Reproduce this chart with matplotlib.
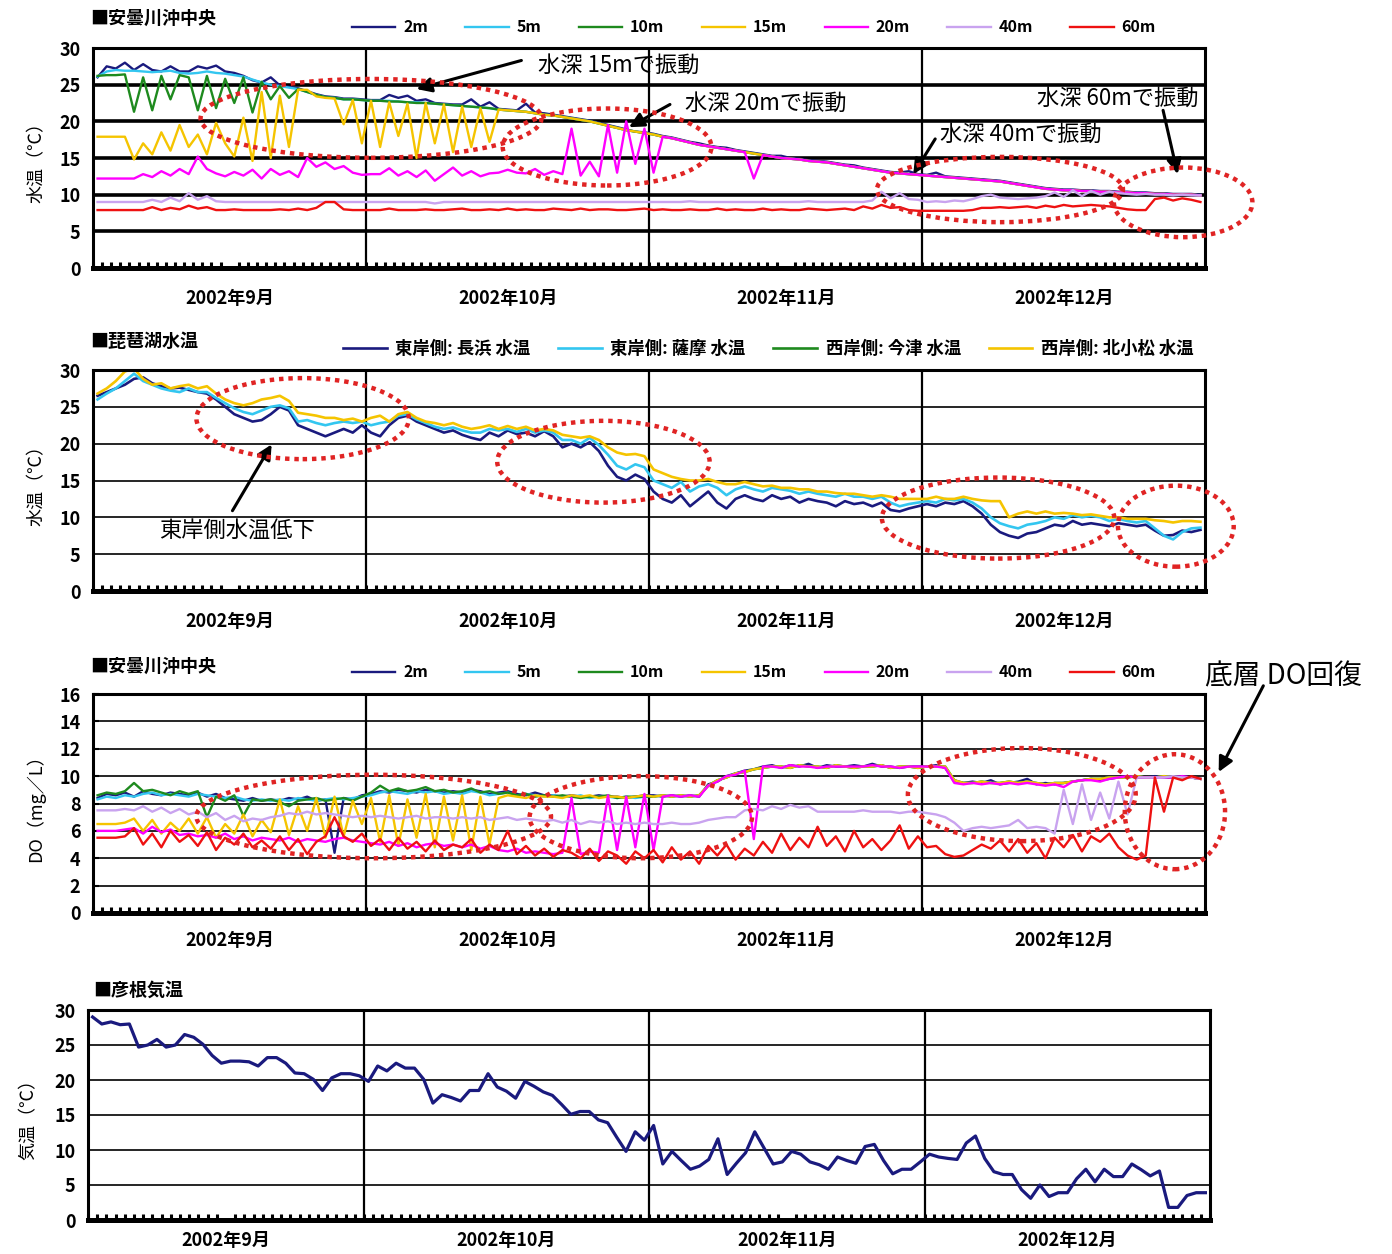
import numpy as np
import matplotlib.pyplot as plt
from matplotlib.patches import Ellipse
from matplotlib.ticker import MultipleLocator

plt.rcParams['font.family'] = ['Noto Sans CJK JP', 'DejaVu Sans']
plt.rcParams['font.weight'] = 'bold'

# colors
navy = '#1a1a7e'
cyan = '#33c6f0'
green = '#1e8a1e'
gold = '#f5c400'
magenta = '#ff00ff'
lavender = '#c9a3ef'
red = '#ee1111'
dot_red = '#e02424'

month_labels = ['2002年9月', '2002年10月', '2002年11月', '2002年12月']
month_starts = [0, 30, 61, 91, 122]
days = np.arange(122) + 0.5   # daily values, Sep 1 .. Dec 31

depth_labels = ['2m', '5m', '10m', '15m', '20m', '40m', '60m']
depth_colors = [navy, cyan, green, gold, magenta, lavender, red]

# ---- panel 1: water temperature by depth (deg C), one value per day ----
tw_2m = [26.0, 27.5, 27.2, 28.0, 27.0, 27.8, 27.0, 26.8, 27.5, 26.8,
         26.8, 27.5, 27.2, 27.6, 26.8, 26.6, 26.2, 25.6, 25.3, 26.0,
         24.9, 24.7, 24.5, 24.1, 23.7, 23.4, 23.3, 23.1, 23.1, 23.0,
         22.9, 22.9, 23.6, 23.2, 23.5, 22.8, 23.0, 22.5, 22.4, 22.3,
         22.3, 23.0, 22.0, 22.6, 21.7, 21.6, 21.5, 22.4, 21.2, 21.1,
         20.9, 20.7, 20.5, 20.3, 20.1, 19.8, 19.5, 19.2, 18.9, 18.6,
         18.5, 18.3, 18.0, 17.8, 17.5, 17.2, 17.0, 16.7, 16.5, 16.4,
         16.1, 15.9, 15.7, 15.5, 15.3, 15.3, 15.0, 14.9, 14.7, 14.6,
         14.5, 14.3, 14.1, 14.0, 13.7, 13.5, 13.3, 13.1, 13.0, 13.2,
         12.8, 12.7, 13.0, 12.5, 12.4, 12.3, 12.2, 12.1, 12.0, 11.9,
         11.7, 11.5, 11.3, 11.1, 10.9, 10.8, 10.7, 10.7, 10.6, 10.6,
         10.5, 10.5, 10.4, 10.4, 10.3, 10.3, 10.2, 10.2, 10.1, 10.1,
         10.1, 10.0]
tw_5m = [26.1, 26.8, 27.0, 26.9, 26.9, 26.8, 26.7, 26.8, 26.9, 26.6,
         26.5, 26.6, 26.8, 26.6, 26.5, 26.3, 26.1, 25.7, 25.3, 25.0,
         24.8, 24.6, 24.4, 24.0, 23.6, 23.3, 23.2, 23.0, 23.0, 22.9,
         22.8, 22.8, 22.8, 22.7, 22.6, 22.6, 22.5, 22.4, 22.3, 22.2,
         22.1, 22.0, 21.9, 21.8, 21.6, 21.5, 21.4, 21.3, 21.1, 20.9,
         20.8, 20.6, 20.4, 20.2, 20.0, 19.7, 19.4, 19.1, 18.8, 18.6,
         18.4, 18.2, 17.9, 17.7, 17.4, 17.1, 16.8, 16.6, 16.4, 16.2,
         16.0, 15.8, 15.6, 15.4, 15.2, 15.0, 14.9, 14.8, 14.6, 14.5,
         14.4, 14.2, 14.0, 13.8, 13.6, 13.4, 13.2, 13.0, 12.9, 12.8,
         12.7, 12.6, 12.5, 12.4, 12.3, 12.2, 12.1, 12.0, 11.9, 11.8,
         11.6, 11.4, 11.2, 11.0, 10.8, 10.7, 10.6, 10.6, 10.5, 10.5,
         10.4, 10.4, 10.3, 10.3, 10.2, 10.2, 10.1, 10.1, 10.0, 10.0,
         10.0, 9.9]
tw_10m = [26.2, 26.3, 26.3, 26.4, 21.3, 26.0, 21.5, 26.2, 23.0, 26.3,
          26.0, 21.5, 26.2, 21.8, 25.8, 22.5, 26.0, 21.2, 25.4, 23.0,
          24.8, 23.2, 24.4, 24.0, 23.6, 23.3, 23.2, 23.0, 23.0, 22.9,
          22.8, 22.8, 22.7, 22.7, 22.6, 22.5, 22.5, 22.4, 22.3, 22.2,
          22.1, 22.0, 21.9, 21.8, 21.6, 21.5, 21.4, 21.3, 21.1, 20.9,
          20.8, 20.6, 20.4, 20.2, 20.0, 19.7, 19.4, 19.1, 18.8, 18.6,
          18.4, 18.2, 17.9, 17.7, 17.4, 17.1, 16.8, 16.6, 16.4, 16.2,
          16.0, 15.8, 15.6, 15.4, 15.2, 15.0, 14.9, 14.8, 14.6, 14.5,
          14.4, 14.2, 14.0, 13.8, 13.6, 13.4, 13.2, 13.0, 12.9, 12.8,
          12.7, 12.6, 12.5, 12.4, 12.3, 12.2, 12.1, 12.0, 11.9, 11.8,
          11.6, 11.4, 11.2, 11.0, 10.8, 10.7, 10.6, 10.6, 10.5, 10.5,
          10.4, 10.4, 10.3, 10.3, 10.2, 10.2, 10.1, 10.1, 10.0, 10.0,
          10.0, 9.9]
tw_15m = [17.9, 17.9, 17.9, 17.9, 14.8, 17.0, 15.5, 18.5, 16.0, 19.5,
          16.5, 18.2, 15.5, 19.8, 17.0, 15.2, 20.5, 14.6, 24.0, 15.0,
          23.5, 16.5, 24.3, 24.3, 23.4, 23.2, 23.1, 19.6, 22.9, 17.0,
          22.8, 16.5, 22.6, 18.0, 22.4, 15.0, 22.5, 17.0, 22.3, 15.8,
          22.0, 16.5, 21.8, 17.2, 21.6, 21.5, 21.4, 21.3, 21.1, 20.9,
          20.8, 20.6, 20.4, 20.2, 20.0, 19.7, 19.4, 19.1, 18.8, 18.6,
          18.4, 18.2, 17.9, 17.7, 17.4, 17.1, 16.8, 16.6, 16.4, 16.2,
          16.0, 15.8, 15.6, 15.4, 15.2, 15.0, 14.9, 14.8, 14.6, 14.5,
          14.4, 14.2, 14.0, 13.8, 13.6, 13.4, 13.2, 13.0, 12.9, 12.8,
          12.7, 12.6, 12.5, 12.4, 12.3, 12.2, 12.1, 12.0, 11.9, 11.8,
          11.6, 11.4, 11.2, 11.0, 10.8, 10.7, 10.6, 10.6, 10.5, 10.5,
          10.4, 10.4, 10.3, 10.3, 10.2, 10.2, 10.1, 10.1, 10.0, 10.0,
          10.0, 9.9]
tw_20m = [12.2, 12.2, 12.2, 12.2, 12.2, 12.8, 12.4, 13.2, 12.6, 13.5,
          12.8, 15.2, 13.5, 12.9, 12.5, 13.1, 12.6, 13.4, 12.2, 13.5,
          12.7, 13.2, 12.4, 15.0, 13.8, 14.4, 13.5, 13.9, 13.0, 12.7,
          12.8, 12.8, 13.6, 12.6, 13.2, 12.4, 13.3, 11.9, 12.8, 13.7,
          12.6, 13.2, 12.5, 12.9, 13.0, 13.4, 13.0, 12.9, 13.5, 12.7,
          13.2, 12.8, 19.0, 12.6, 14.5, 12.5, 19.5, 13.0, 20.0, 14.2,
          19.0, 13.0, 17.9, 17.7, 17.4, 17.1, 16.8, 16.6, 16.4, 16.2,
          16.0, 15.8, 12.2, 15.4, 15.2, 15.0, 14.9, 14.8, 14.6, 14.5,
          14.4, 14.2, 14.0, 13.8, 13.6, 13.4, 13.2, 13.0, 12.9, 12.8,
          12.7, 12.6, 12.5, 12.4, 12.3, 12.2, 12.1, 12.0, 11.9, 11.8,
          11.6, 11.4, 11.2, 11.0, 10.8, 10.7, 10.6, 10.6, 10.5, 10.5,
          10.4, 10.4, 10.3, 10.3, 10.2, 10.2, 10.1, 10.1, 10.0, 10.0,
          10.0, 9.9]
tw_40m = [9.0, 9.0, 9.0, 9.0, 9.0, 9.0, 9.3, 9.0, 9.6, 9.1,
          10.2, 9.3, 9.8, 9.1, 9.0, 9.0, 9.0, 9.0, 9.0, 9.0,
          9.0, 9.0, 9.0, 9.0, 9.0, 9.0, 9.0, 9.0, 9.0, 9.0,
          9.0, 9.0, 9.0, 9.0, 9.0, 9.0, 9.0, 8.8, 9.0, 9.0,
          9.0, 9.0, 9.0, 9.0, 9.0, 9.0, 9.0, 9.0, 9.0, 9.0,
          9.0, 9.0, 9.0, 9.0, 9.0, 9.0, 9.0, 9.0, 9.0, 9.0,
          9.0, 9.0, 9.0, 9.0, 9.0, 9.1, 9.0, 9.0, 9.0, 9.0,
          9.0, 9.0, 9.0, 9.0, 9.0, 9.0, 9.0, 9.0, 9.1, 9.0,
          9.0, 9.0, 9.0, 9.0, 9.0, 9.2, 10.4, 9.5, 10.2, 9.4,
          9.3, 9.0, 9.1, 9.0, 9.2, 9.1, 9.4, 9.8, 10.0, 9.6,
          9.5, 9.4, 9.5, 9.6, 9.8, 10.3, 9.7, 10.6, 9.8, 10.5,
          10.0, 10.4, 10.2, 10.1, 10.0, 10.1, 10.0, 10.0, 9.9, 10.0,
          9.9, 9.9]
tw_60m = [7.9, 7.9, 7.9, 7.9, 7.9, 7.9, 8.3, 7.9, 8.2, 8.0,
          8.5, 8.1, 8.3, 7.9, 7.9, 8.0, 7.9, 7.9, 7.9, 7.9,
          8.0, 7.9, 8.1, 7.9, 8.2, 9.0, 9.0, 8.0, 7.9, 7.9,
          7.9, 7.9, 8.1, 7.9, 7.9, 7.9, 8.0, 7.9, 7.9, 8.0,
          8.1, 7.9, 7.9, 8.0, 7.9, 8.1, 7.9, 8.0, 7.9, 7.9,
          8.1, 8.0, 7.9, 8.1, 7.9, 8.0, 8.0, 7.9, 7.9, 8.0,
          8.1, 7.9, 8.0, 7.9, 7.9, 8.0, 7.9, 7.9, 8.1, 7.9,
          8.0, 7.9, 7.9, 8.1, 7.9, 8.0, 7.9, 7.9, 8.1, 8.0,
          7.9, 8.0, 8.1, 7.9, 8.4, 8.1, 8.6, 8.2, 8.3, 7.9,
          7.8, 7.8, 7.8, 7.8, 7.8, 7.8, 7.9, 8.2, 8.2, 8.3,
          8.2, 8.3, 8.4, 8.2, 8.5, 8.3, 8.6, 8.4, 8.5, 8.6,
          8.5, 8.4, 8.2, 8.0, 7.9, 7.9, 9.4, 9.6, 9.2, 9.5,
          9.3, 9.0]

# ---- panel 2: lake Biwa shore stations (deg C) ----
lake_labels = ['東岸側: 長浜 水温', '東岸側: 薩摩 水温', '西岸側: 今津 水温', '西岸側: 北小松 水温']
nagahama = [26.5, 27.0, 27.5, 28.0, 28.8, 29.0, 28.2, 27.8, 27.5, 27.6,
            27.3, 27.0, 26.8, 26.0, 25.0, 24.0, 23.5, 23.0, 23.2, 24.0,
            25.0, 24.5, 22.5, 22.0, 21.5, 21.0, 21.5, 22.0, 21.5, 22.5,
            21.5, 21.0, 22.5, 23.5, 23.8, 23.0, 22.5, 22.0, 21.5, 21.8,
            21.2, 20.8, 20.5, 21.5, 21.0, 21.8, 21.3, 21.5, 21.0, 21.7,
            21.0, 19.5, 20.0, 19.5, 20.2, 19.0, 17.0, 15.5, 15.0, 15.8,
            15.2, 13.5, 12.5, 12.0, 13.0, 11.5, 12.5, 13.5, 12.0, 11.2,
            12.5, 13.0, 12.5, 12.2, 13.0, 12.5, 12.8, 12.0, 12.5, 12.2,
            12.0, 11.5, 12.2, 11.8, 12.0, 11.5, 12.0, 11.0, 10.8, 11.2,
            11.5, 11.8, 11.5, 12.0, 11.8, 12.2, 11.5, 10.5, 9.0, 8.0,
            7.5, 7.2, 7.8, 8.0, 8.5, 9.0, 8.8, 9.5, 9.0, 9.2,
            9.0, 8.8, 9.2, 9.0, 8.8, 9.0, 8.2, 7.5, 7.6, 8.2,
            8.0, 8.3]
satsuma = [26.0, 26.8, 27.5, 28.5, 29.5, 28.5, 28.0, 27.5, 27.2, 27.0,
           27.5, 27.0, 27.0, 26.2, 25.5, 24.8, 24.3, 24.0, 24.5, 25.0,
           25.2, 24.8, 23.0, 23.2, 22.8, 22.5, 22.8, 23.0, 22.8, 23.0,
           22.5, 22.8, 23.0, 23.8, 24.0, 23.3, 22.8, 22.3, 22.0, 22.2,
           21.8, 21.5, 21.5, 22.0, 21.8, 22.0, 21.6, 22.0, 21.5, 21.8,
           21.5, 20.5, 20.5, 20.0, 20.8, 19.8, 18.5, 17.0, 16.5, 17.2,
           16.8, 15.0, 14.5, 14.0, 14.8, 13.5, 14.2, 14.5, 14.0, 13.0,
           13.8, 14.2, 13.8, 13.5, 14.0, 13.8, 13.6, 13.2, 13.5, 13.2,
           13.0, 12.8, 13.2, 12.8, 12.8, 12.5, 12.8, 12.0, 11.5, 11.8,
           12.0, 12.2, 12.0, 12.5, 12.3, 12.5, 12.0, 11.2, 10.0, 9.2,
           8.8, 8.5, 9.0, 9.2, 9.5, 10.0, 9.8, 10.3, 10.0, 10.2,
           10.0, 9.5, 9.8, 9.5, 9.3, 9.5, 8.5, 7.5, 7.0, 8.0,
           8.5, 8.6]
imazu = []  # no 今津 trace is visible in the source chart
kitakomatsu = [26.8, 27.5, 28.5, 29.8, 30.2, 28.8, 28.0, 28.2, 27.5, 27.8,
               28.0, 27.5, 27.8, 26.8, 26.0, 25.5, 25.2, 25.5, 26.0, 26.2,
               26.5, 25.8, 24.2, 24.0, 23.8, 23.5, 23.5, 23.2, 23.4, 23.0,
               23.5, 23.8, 23.0, 24.0, 24.3, 23.5, 23.0, 22.8, 22.5, 22.8,
               22.3, 22.0, 22.2, 22.5, 22.0, 22.4, 22.0, 22.3, 21.8, 22.0,
               21.8, 21.2, 21.0, 20.8, 21.0, 20.5, 19.5, 18.8, 18.5, 18.6,
               18.3, 16.5, 16.0, 15.5, 15.2, 15.0, 15.0, 15.2, 14.8, 14.5,
               14.5, 14.8, 14.5, 14.2, 14.3, 14.0, 14.0, 13.8, 13.8, 13.5,
               13.5, 13.3, 13.2, 13.2, 13.0, 12.8, 13.0, 12.8, 12.5, 12.5,
               12.5, 12.5, 12.8, 12.5, 12.5, 12.8, 12.5, 12.3, 12.2, 12.2,
               10.0, 10.5, 10.8, 10.5, 10.8, 10.5, 10.6, 10.5, 10.3, 10.4,
               10.2, 10.0, 10.0, 9.8, 9.8, 9.8, 9.6, 9.5, 9.3, 9.5,
               9.5, 9.4]
lake_colors = [navy, cyan, green, gold]

# ---- panel 3: dissolved oxygen by depth (mg/L) ----
do_2m = [8.4, 8.7, 8.6, 8.8, 8.5, 8.9, 8.7, 8.6, 8.8, 8.7,
         8.6, 8.8, 8.5, 8.7, 8.4, 8.3, 8.2, 8.4, 8.2, 8.3,
         8.2, 8.4, 8.3, 8.5, 8.2, 8.3, 4.4, 8.4, 8.3, 8.6,
         8.7, 8.9, 8.8, 9.0, 8.9, 8.8, 9.0, 8.9, 8.8, 8.9,
         8.8, 9.0, 8.9, 8.7, 8.8, 8.9, 8.7, 8.6, 8.8, 8.6,
         8.6, 8.5, 8.6, 8.5, 8.5, 8.6, 8.5, 8.5, 8.4, 8.5, 8.6,
         8.6, 8.5, 8.6, 8.5, 8.6, 8.5, 9.4, 9.6, 10.0, 10.2,
         10.4, 10.5, 10.7, 10.8, 10.6, 10.8, 10.7, 10.9, 10.6, 10.8,
         10.7, 10.7, 10.8, 10.7, 10.9, 10.7, 10.7, 10.6, 10.7, 10.7,
         10.7, 10.8, 10.6, 9.6, 9.5, 9.6, 9.5, 9.7, 9.4, 9.5,
         9.6, 9.8, 9.4, 9.5, 9.4, 9.5, 9.6, 9.7, 9.8, 9.7,
         9.8, 9.9, 10.0, 9.9, 9.9, 10.0, 9.9, 9.9, 10.0, 9.9, 9.8]
do_5m = [8.3, 8.5, 8.4, 8.6, 8.5, 8.7, 8.8, 8.6, 8.7, 8.6,
         8.5, 8.7, 8.6, 8.5, 8.4, 8.5, 8.3, 8.2, 8.3, 8.2,
         8.3, 8.2, 8.4, 8.3, 8.2, 8.3, 8.4, 8.3, 8.4, 8.5,
         8.6, 8.8, 8.9, 8.8, 8.7, 8.9, 8.8, 8.9, 8.7, 8.8,
         8.7, 8.9, 8.8, 8.6, 8.7, 8.8, 8.6, 8.7, 8.6, 8.5,
         8.6, 8.5, 8.5, 8.6, 8.4, 8.5, 8.5, 8.4, 8.5, 8.4, 8.5,
         8.5, 8.6, 8.5, 8.6, 8.5, 8.6, 9.3, 9.7, 9.9, 10.2,
         10.3, 10.5, 10.6, 10.7, 10.7, 10.6, 10.8, 10.7, 10.7, 10.6,
         10.8, 10.7, 10.6, 10.7, 10.7, 10.8, 10.6, 10.7, 10.7, 10.6,
         10.7, 10.7, 10.7, 9.7, 9.5, 9.5, 9.6, 9.5, 9.5, 9.6,
         9.5, 9.6, 9.5, 9.4, 9.5, 9.5, 9.6, 9.7, 9.8, 9.8,
         9.9, 9.9, 9.9, 10.0, 9.9, 9.9, 10.0, 9.9, 9.9, 9.9, 9.8]
do_10m = [8.6, 8.8, 8.7, 8.9, 9.5, 8.9, 9.0, 8.8, 8.6, 8.9,
          8.7, 8.9, 7.0, 8.5, 8.2, 8.6, 7.1, 8.3, 8.2, 8.3,
          8.1, 7.8, 8.2, 8.3, 8.4, 8.2, 8.3, 8.4, 8.2, 8.5,
          8.8, 9.3, 8.9, 9.1, 8.9, 9.0, 9.2, 8.9, 9.0, 8.8,
          8.9, 9.1, 8.8, 8.9, 8.7, 8.8, 8.6, 8.7, 8.5, 8.6,
          8.5, 8.6, 8.5, 8.4, 8.5, 8.5, 8.6, 8.4, 8.5, 8.5, 8.5,
          8.5, 8.6, 8.5, 8.6, 8.5, 8.6, 9.3, 9.7, 9.9, 10.2,
          10.3, 10.5, 10.6, 10.7, 10.7, 10.6, 10.8, 10.7, 10.7, 10.6,
          10.8, 10.7, 10.6, 10.7, 10.7, 10.8, 10.6, 10.7, 10.7, 10.6,
          10.7, 10.7, 10.7, 9.7, 9.5, 9.5, 9.6, 9.5, 9.5, 9.6,
          9.5, 9.6, 9.5, 9.4, 9.5, 9.5, 9.6, 9.7, 9.8, 9.8,
          9.9, 9.9, 9.9, 10.0, 9.9, 9.9, 10.0, 9.9, 9.9, 9.9, 9.8]
do_15m = [6.5, 6.5, 6.5, 6.6, 6.9, 6.0, 6.8, 5.8, 6.6, 6.0,
          6.9, 5.8, 7.0, 5.5, 6.5, 5.8, 7.2, 5.6, 6.8, 5.9,
          8.3, 5.7, 7.8, 6.0, 8.4, 5.5, 8.5, 5.6, 8.2, 6.5,
          8.4, 5.2, 8.6, 4.9, 8.3, 5.5, 8.7, 4.8, 8.5, 5.3,
          8.6, 4.6, 8.5, 5.0, 8.4, 8.6, 8.5, 8.4, 8.6, 8.5,
          8.5, 8.4, 8.6, 8.5, 8.6, 8.4, 8.5, 8.5, 8.4, 8.5, 8.6,
          8.5, 8.6, 8.5, 8.6, 8.5, 8.6, 9.3, 9.7, 9.9, 10.2,
          10.3, 10.5, 10.6, 10.7, 10.7, 10.6, 10.8, 10.7, 10.7, 10.6,
          10.8, 10.7, 10.6, 10.7, 10.7, 10.8, 10.6, 10.7, 10.7, 10.6,
          10.7, 10.7, 10.7, 9.7, 9.5, 9.5, 9.6, 9.5, 9.5, 9.6,
          9.5, 9.6, 9.5, 9.4, 9.5, 9.5, 9.6, 9.7, 9.8, 9.8,
          9.9, 9.9, 9.9, 10.0, 9.9, 9.9, 10.0, 9.9, 9.9, 9.9, 9.8]
do_20m = [6.0, 6.0, 6.0, 6.1, 6.2, 5.8, 6.3, 5.9, 6.1, 5.7,
          5.8, 5.6, 5.7, 5.5, 5.8, 5.4, 5.6, 5.3, 5.5, 5.4,
          5.3, 5.5, 5.2, 5.4, 5.3, 5.2, 5.4, 5.5, 5.3, 5.2,
          5.1, 5.0, 5.2, 4.9, 5.1, 4.8, 5.0, 5.1, 4.9, 5.0,
          4.8, 5.0, 4.7, 4.9, 4.6, 4.5, 4.7, 4.4, 4.5, 4.4,
          4.3, 4.4, 8.4, 4.3, 4.5, 4.4, 8.6, 4.6, 8.5, 4.8, 8.7,
          4.6, 8.5, 8.6, 8.5, 8.6, 8.5, 9.3, 9.6, 10.0, 10.1,
          10.4, 5.4, 10.7, 10.7, 10.6, 10.8, 10.7, 10.7, 10.6, 10.7,
          10.7, 10.7, 10.7, 10.7, 10.8, 10.7, 10.7, 10.6, 10.7, 10.7,
          10.7, 10.7, 10.6, 9.5, 9.4, 9.5, 9.4, 9.5, 9.4, 9.5,
          9.4, 9.5, 9.4, 9.3, 9.4, 9.2, 9.6, 9.7, 9.7, 9.6,
          9.8, 9.9, 10.0, 9.9, 9.9, 9.9, 9.9, 9.9, 10.0, 9.9, 9.8]
do_40m = [7.5, 7.5, 7.5, 7.6, 7.5, 7.8, 7.4, 7.7, 7.3, 7.6,
          7.2, 7.4, 7.0, 7.3, 6.8, 7.1, 6.7, 6.9, 6.8, 7.0,
          7.1, 7.3, 7.2, 7.4, 7.2, 7.3, 7.2, 7.1, 7.0, 7.1,
          7.0, 7.1, 7.0, 6.9, 7.0, 7.1, 6.9, 7.0, 7.0, 6.9,
          7.0, 6.9, 7.0, 6.8, 6.9, 7.0, 6.8, 6.9, 6.8, 6.7,
          6.8, 6.6, 6.8, 6.5, 6.7, 6.6, 6.7, 6.5, 6.6, 6.5, 6.6,
          6.5, 6.5, 6.6, 6.5, 6.5, 6.6, 6.8, 6.9, 7.0, 7.0,
          7.5, 7.6, 7.5, 7.8, 7.6, 7.9, 7.7, 7.8, 7.4, 7.4,
          7.4, 7.4, 7.4, 7.5, 7.4, 7.4, 7.4, 7.3, 7.4, 7.4,
          7.3, 7.2, 7.0, 6.6, 6.0, 6.2, 6.3, 6.2, 6.3, 6.4,
          6.8, 6.2, 6.3, 6.2, 5.8, 9.0, 6.5, 9.4, 6.8, 8.8,
          6.9, 9.6, 7.2, 9.9, 9.9, 9.9, 9.9, 10.0, 9.9, 9.9, 9.8]
do_60m = [5.5, 5.5, 5.5, 5.6, 6.2, 5.0, 5.8, 4.8, 6.0, 5.2,
          5.7, 4.9, 5.9, 4.6, 5.5, 5.0, 5.8, 4.8, 5.3, 4.7,
          5.6, 4.6, 5.4, 4.3, 5.2, 5.6, 7.0, 5.6, 5.2, 5.8,
          4.9, 5.4, 4.6, 5.5, 4.7, 5.2, 4.5, 5.3, 4.6, 5.0,
          4.8, 5.4, 4.4, 5.0, 4.6, 6.0, 4.3, 4.9, 4.2, 4.7,
          4.1, 4.6, 4.4, 4.0, 4.7, 3.8, 4.5, 4.2, 3.6, 4.5, 4.0,
          4.6, 3.7, 4.8, 3.9, 4.5, 3.6, 4.9, 4.2, 5.0, 3.9,
          4.7, 4.2, 5.2, 4.4, 5.8, 4.6, 5.5, 4.8, 6.3, 4.9,
          5.6, 4.5, 6.0, 4.8, 5.4, 4.6, 5.3, 6.4, 4.7, 5.6,
          4.8, 4.9, 4.3, 4.1, 4.2, 4.6, 5.0, 4.7, 5.3, 4.5,
          5.4, 4.4, 5.1, 4.0, 5.5, 4.8, 5.7, 4.5, 5.6, 5.2,
          5.8, 4.8, 4.2, 3.9, 4.2, 9.9, 7.4, 9.9, 9.7, 10.0, 9.8]

# ---- panel 4: Hikone air temperature (deg C) ----
air_temp = [29.0, 28.0, 28.3, 27.9, 28.0, 24.7, 25.0, 25.8, 24.7, 25.0,
            26.5, 26.1, 25.1, 23.5, 22.4, 22.7, 22.7, 22.6, 22.0, 23.2,
            23.2, 22.4, 21.0, 20.9, 20.1, 18.5, 20.3, 20.9, 20.9, 20.6,
            19.8, 22.0, 21.3, 22.4, 21.7, 21.7, 20.1, 16.7, 17.9, 17.5,
            17.0, 18.5, 18.5, 20.9, 19.0, 18.4, 17.4, 19.8, 19.1, 18.3,
            17.8, 16.5, 15.1, 15.5, 15.5, 14.3, 13.9, 11.8, 9.8, 12.6, 11.4,
            13.5, 8.0, 9.8, 8.5, 7.25, 7.7, 8.65, 11.6, 6.5, 8.1,
            9.6, 12.6, 10.3, 8.0, 8.3, 9.8, 9.4, 8.3, 7.9, 7.25,
            9.0, 8.5, 8.1, 10.5, 10.8, 8.5, 6.6, 7.25, 7.25, 8.3,
            9.4, 9.0, 8.8, 8.65, 11.0, 12.0, 8.8, 6.9, 6.5, 6.5,
            4.35, 3.1, 5.0, 3.35, 3.9, 3.9, 5.9, 7.25, 5.45, 7.25,
            6.2, 6.2, 8.0, 7.2, 6.3, 7.0, 1.8, 1.8, 3.5, 3.9, 3.9]

W, H = 1392, 1254
fig = plt.figure(figsize=(W / 100, H / 100), dpi=100)


def add_panel(left, top, right, bottom, ymax, ystep, grid_lw, label_pad):
    ax = fig.add_axes([left / W, 1 - bottom / H, (right - left) / W, (bottom - top) / H])
    ax.set_xlim(0, 122)
    ax.set_ylim(0, ymax)
    ax.set_yticks(np.arange(0, ymax + 0.1, ystep))
    ax.yaxis.grid(True, color='black', lw=grid_lw)
    ax.set_axisbelow(True)
    for m in month_starts[1:-1]:
        ax.axvline(m, color='black', lw=1.6, zorder=1)
    mids = [(a + b) / 2 for a, b in zip(month_starts[:-1], month_starts[1:])]
    ax.set_xticks(mids)
    ax.set_xticklabels(month_labels)
    ax.xaxis.set_minor_locator(MultipleLocator(1))
    ax.tick_params(axis='x', which='major', length=0, pad=label_pad, labelsize=13)
    ax.tick_params(axis='x', which='minor', direction='in', length=4.5, width=2.2, color='black')
    ax.tick_params(axis='y', length=0, pad=9, labelsize=13)
    for s in ax.spines.values():
        s.set_linewidth(2.2)
    ax.spines['bottom'].set_linewidth(3.6)
    return ax


def ring(ax, cx, cy, w, h):
    ax.add_patch(Ellipse((cx, cy), w, h, fill=False, ec=dot_red, lw=3.2,
                         ls=(0, (1, 1.1)), clip_on=False, zorder=6))


def arrow(ax, start, end):
    ax.annotate('', xy=end, xytext=start, annotation_clip=False,
                arrowprops=dict(arrowstyle='-|>', color='black', lw=2.2,
                                mutation_scale=22, shrinkA=0, shrinkB=0))


def note(ax, x, y, s, size=16):
    ax.text(x, y, s, fontsize=size, fontweight='normal', va='center', ha='left', zorder=7)


# Panel 1 - water temperature profile
ax1 = add_panel(93, 48, 1205, 268, 30, 5, 2.6, 15)
for vals, lab, col in zip([tw_2m, tw_5m, tw_10m, tw_15m, tw_20m, tw_40m, tw_60m],
                          depth_labels, depth_colors):
    ax1.plot(days, vals, color=col, lw=1.7, label=lab)
ax1.set_ylabel('水温（℃）', fontsize=13, labelpad=10)
ax1.legend(loc='center left', bbox_to_anchor=(0.233, 1.095), ncol=7, frameon=False,
           fontsize=11.5, handlelength=2.7, handletextpad=0.5, columnspacing=2.35,
           borderaxespad=0, borderpad=0)
ring(ax1, 30.5, 20.4, 37.4, 10.75)
ring(ax1, 56.4, 16.5, 22.9, 10.5)
ring(ax1, 99.5, 10.7, 27.0, 8.9)
ring(ax1, 119.6, 8.95, 15.2, 9.5)
note(ax1, 48.8, 27.7, '水深 15mで振動')
arrow(ax1, (47.0, 28.3), (35.5, 24.4))
note(ax1, 64.9, 22.5, '水深 20mで振動')
arrow(ax1, (63.3, 22.3), (58.8, 19.2))
note(ax1, 92.9, 18.2, '水深 40mで振動')
arrow(ax1, (92.4, 17.6), (90.0, 12.8))
note(ax1, 103.6, 23.2, '水深 60mで振動')
arrow(ax1, (117.4, 21.5), (119.0, 12.8))
fig.text(90 / W, 1 - 18 / H, '■安曇川沖中央', fontsize=13, va='center')

# Panel 2 - shore station temperatures
ax2 = add_panel(93, 370, 1205, 591, 30, 5, 1.2, 15)
for vals, lab, col in zip([nagahama, satsuma, imazu, kitakomatsu], lake_labels, lake_colors):
    ax2.plot(days[:len(vals)], vals, color=col, lw=1.9, label=lab)
ax2.set_ylabel('水温（℃）', fontsize=13, labelpad=10)
ax2.legend(loc='center left', bbox_to_anchor=(0.225, 1.095), ncol=4, frameon=False,
           fontsize=12.5, handlelength=2.5, handletextpad=0.5, columnspacing=1.6,
           borderaxespad=0, borderpad=0)
ring(ax2, 23.0, 23.4, 23.3, 11.0)
ring(ax2, 56.0, 17.55, 23.3, 11.1)
ring(ax2, 99.3, 9.9, 25.5, 11.0)
ring(ax2, 118.8, 8.8, 12.7, 11.0)
note(ax2, 7.2, 8.2, '東岸側水温低下')
arrow(ax2, (15.3, 10.9), (19.6, 19.9))
fig.text(90 / W, 1 - 341 / H, '■琵琶湖水温', fontsize=13, va='center')

# Panel 3 - dissolved oxygen profile
ax3 = add_panel(93, 694, 1205, 913, 16, 2, 1.2, 13)
ax3.tick_params(axis='y', direction='in', length=4, width=1.5)
for vals, lab, col in zip([do_2m, do_5m, do_10m, do_15m, do_20m, do_40m, do_60m],
                          depth_labels, depth_colors):
    ax3.plot(days, vals, color=col, lw=1.7, label=lab)
ax3.set_ylabel('DO（mg／L）', fontsize=13, labelpad=10)
ax3.legend(loc='center left', bbox_to_anchor=(0.233, 1.10), ncol=7, frameon=False,
           fontsize=11.5, handlelength=2.7, handletextpad=0.5, columnspacing=2.35,
           borderaxespad=0, borderpad=0)
ring(ax3, 30.8, 7.05, 38.9, 6.1)
ring(ax3, 60.1, 7.0, 24.4, 6.0)
ring(ax3, 101.9, 8.65, 25.0, 6.8)
ring(ax3, 118.7, 7.4, 11.0, 8.4)
note(ax3, 122.0, 17.3, '底層 DO回復', size=20)
arrow(ax3, (128.4, 16.6), (123.5, 10.3))
fig.text(90 / W, 1 - 666 / H, '■安曇川沖中央', fontsize=13, va='center')

# Panel 4 - Hikone air temperature
ax4 = add_panel(88, 1010, 1210, 1220, 30, 5, 1.2, 8)
ax4.plot(days, air_temp, color=navy, lw=2.3)
ax4.set_ylabel('気温（℃）', fontsize=13, labelpad=12)
fig.text(93 / W, 1 - 990 / H, '■彦根気温', fontsize=13, va='center')

fig.savefig('out.png', dpi=100)
